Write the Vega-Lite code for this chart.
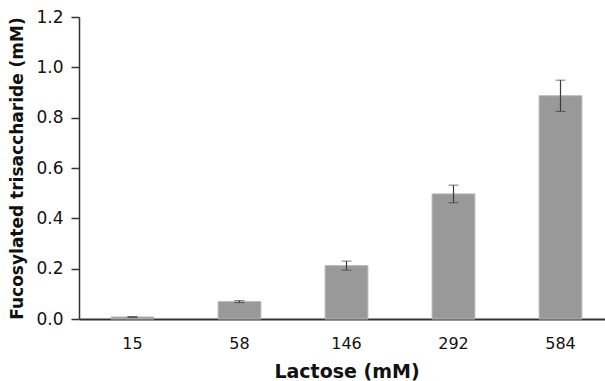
{
  "$schema": "https://vega.github.io/schema/vega-lite/v6.json",
  "autosize": "none",
  "padding": {"left": 79, "top": 17, "right": 0, "bottom": 62},
  "width": 535,
  "height": 302,
  "background": "white",
  "config": {
    "view": {"stroke": null},
    "font": "DejaVu Sans",
    "axis": {"labelFont": "DejaVu Sans", "titleFont": "DejaVu Sans", "grid": false, "labelColor": "#111", "titleColor": "#111", "domainColor": "#333", "tickColor": "#333"}
  },
  "data": {
    "values": [
      {"lactose": "15", "value": 0.008, "err": 0.002},
      {"lactose": "58", "value": 0.069, "err": 0.004},
      {"lactose": "146", "value": 0.212, "err": 0.018},
      {"lactose": "292", "value": 0.497, "err": 0.035},
      {"lactose": "584", "value": 0.887, "err": 0.062}
    ]
  },
  "encoding": {
    "x": {
      "field": "lactose", "type": "nominal", "sort": null,
      "scale": {"paddingInner": 0.6, "paddingOuter": 0.3},
      "axis": {"title": "Lactose (mM)", "labelAngle": 0, "labelFontSize": 16, "labelPadding": 16, "ticks": false, "domainWidth": 2, "titleFontSize": 19, "titleFontWeight": "bold", "titlePadding": 11}
    }
  },
  "layer": [
    {
      "mark": {"type": "bar", "color": "#999999", "stroke": "#b5b5b5", "strokeWidth": 1},
      "encoding": {
        "y": {
          "field": "value", "type": "quantitative",
          "title": "Fucosylated trisaccharide (mM)",
          "scale": {"domain": [0, 1.2], "nice": false},
          "axis": {"values": [0, 0.2, 0.4, 0.6, 0.8, 1.0, 1.2], "format": ".1f", "labelFontSize": 17, "labelPadding": 8, "tickSize": 8, "domainWidth": 1.5, "tickWidth": 1.5, "titleFontSize": 17, "titleFontWeight": "bold", "titlePadding": 9}
        }
      }
    },
    {
      "mark": {"type": "errorbar", "ticks": {"size": 10, "color": "#3a3a3a"}, "rule": {"color": "#3a3a3a", "strokeWidth": 1.2}, "color": "#3a3a3a"},
      "encoding": {
        "y": {"field": "value", "type": "quantitative", "title": "Fucosylated trisaccharide (mM)"},
        "yError": {"field": "err"}
      }
    }
  ]
}
